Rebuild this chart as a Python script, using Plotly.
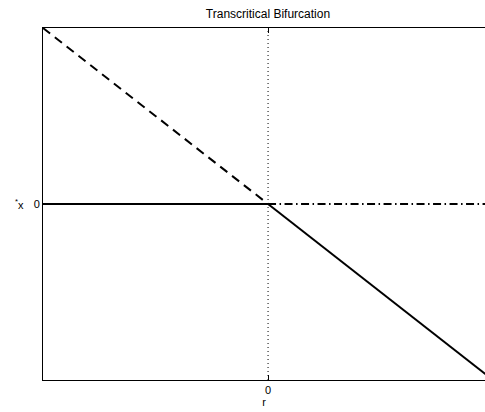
import plotly.graph_objects as go

# Data
r_neg = [-1, 0]
r_pos = [0, 1]
zero_neg = [0, 0]
zero_pos = [0, 0]
diag_neg = [1, 0]     # x* = -r for r < 0 (unstable)
diag_pos = [0, -1]    # x* = -r for r > 0 (stable)
x_ticks = [0]
x_tick_labels = ["0"]
y_ticks = [0]
y_tick_labels = ["0"]

font = "Liberation Sans, Arial, Helvetica, sans-serif"
solid = dict(color="black", width=2)
dashed = dict(color="black", width=2, dash="9px,6px")
dashdot = dict(color="black", width=2, dash="8px,3.5px,1.5px,3.5px")

W, H = 485, 412
L, T, B = 43, 28, 32

fig = go.Figure()
fig.add_trace(go.Scatter(x=r_neg, y=zero_neg, mode="lines", line=solid, showlegend=False))
fig.add_trace(go.Scatter(x=r_pos, y=zero_pos, mode="lines", line=dashdot, showlegend=False))
fig.add_trace(go.Scatter(x=r_neg, y=diag_neg, mode="lines", line=dashed, showlegend=False))
fig.add_trace(go.Scatter(x=r_pos, y=diag_pos, mode="lines", line=solid, showlegend=False))

# dotted vertical at r = 0
fig.add_shape(type="line", xref="x", yref="paper", x0=0, x1=0, y0=0, y1=1,
              line=dict(color="black", width=1, dash="1px,3px"))

fig.update_layout(
    width=W, height=H,
    margin=dict(l=L, r=0, t=T, b=B, pad=0),
    paper_bgcolor="white", plot_bgcolor="white",
    font=dict(family=font, size=11, color="black"),
    title=dict(text="Transcritical Bifurcation", x=268 / W, xanchor="center",
               y=1 - 13.5 / H, yanchor="middle", font=dict(size=12)),
    xaxis=dict(range=[-1, 0.964], showgrid=False, zeroline=False,
               showline=True, linecolor="black", linewidth=1, mirror="ticks",
               ticks="inside", ticklen=5, tickcolor="black",
               tickvals=x_ticks, ticktext=x_tick_labels,
               title=dict(text="r", standoff=1, font=dict(size=11))),
    yaxis=dict(range=[-1, 1], showgrid=False, zeroline=False,
               showline=True, linecolor="black", linewidth=1,
               ticks="inside", ticklen=5, tickcolor="black",
               tickvals=y_ticks, ticktext=y_tick_labels),
)

fig.add_annotation(text="<sup>*</sup>x", xref="paper", yref="y",
                   x=(19 - L) / (W - L), y=0, showarrow=False,
                   font=dict(size=11, family=font), xanchor="center", yanchor="middle")

fig.write_html("out.html",
               config={"displayModeBar": False, "staticPlot": True},
               post_script="document.body.style.margin='0';document.body.style.overflow='hidden';")
